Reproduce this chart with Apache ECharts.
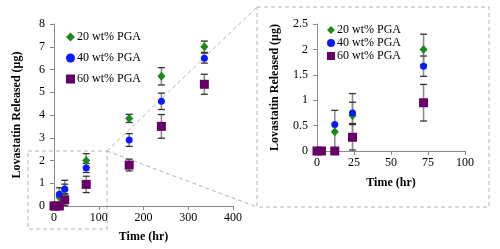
<!DOCTYPE html>
<html>
<head>
<meta charset="utf-8">
<script src="https://cdn.jsdelivr.net/npm/echarts@6/dist/echarts.min.js"></script>
<style>
  html, body { margin: 0; padding: 0; background: #fff; }
  #chart { width: 500px; height: 249px; }
</style>
</head>
<body>
<div id="chart"></div>
<script>
// data (time in hr, lovastatin in ug)
var hours = [0, 3, 12, 24, 72, 168, 240, 336];
var pga20 = [0, 0, 0.38, 0.70, 2.0, 3.85, 5.7, 7.0];
var pga20Err = [0, 0, 0.42, 0.43, 0.30, 0.18, 0.38, 0.25];
var pga40 = [0, 0, 0.52, 0.75, 1.67, 2.9, 4.6, 6.5];
var pga40Err = [0, 0, 0, 0.21, 0.20, 0.28, 0.36, 0.22];
var pga60 = [0, 0, 0, 0.27, 0.95, 1.8, 3.5, 5.35];
var pga60Err = [0, 0, 0, 0.25, 0.36, 0.26, 0.52, 0.44];
var seriesNames = ['20 wt% PGA', '40 wt% PGA', '60 wt% PGA'];
var xTicksMain = [0, 400, 100];   // min, max, interval
var yTicksMain = [0, 8, 1];
var xTicksZoom = [0, 100, 25];
var yTicksZoom = [0, 2.5, 0.5];

var chart = echarts.init(document.getElementById('chart'));

var FONT = 'Liberation Serif';
var colors = ['#1b8a1b', '#0a1aff', '#660066'];
var symbols = ['diamond', 'circle', 'rect'];
var symSizes = [[8, 9], 7, 9];
var values = [pga20, pga40, pga60];
var errs = [pga20Err, pga40Err, pga60Err];

function pts(vals, maxX) {
  var out = [];
  hours.forEach(function (h, i) {
    if (h <= maxX) out.push([h, vals[i]]);
  });
  return out;
}
function errPts(vals, e, maxX) {
  var out = [];
  hours.forEach(function (h, i) {
    if (h <= maxX && e[i] > 0) out.push([h, vals[i] - e[i], vals[i] + e[i]]);
  });
  return out;
}

function errorItem(params, api) {
  var x = api.value(0);
  var top = api.coord([x, api.value(2)]);
  var bot = api.coord([x, api.value(1)]);
  var w = 3.5;
  return {
    type: 'group',
    children: [
      {type: 'line', shape: {x1: top[0], y1: top[1], x2: bot[0], y2: bot[1]},
        style: {stroke: '#8c8c8c', lineWidth: 1.6}},
      {type: 'line', shape: {x1: top[0] - w, y1: top[1], x2: top[0] + w, y2: top[1]},
        style: {stroke: '#333', lineWidth: 1.3}},
      {type: 'line', shape: {x1: bot[0] - w, y1: bot[1], x2: bot[0] + w, y2: bot[1]},
        style: {stroke: '#333', lineWidth: 1.3}}
    ]
  };
}

function axisBase(t, fs) {
  return {
    min: t[0], max: t[1], interval: t[2],
    axisLine: {lineStyle: {color: '#8a8a8a', width: 1}},
    axisTick: {show: true, length: 4, lineStyle: {color: '#8a8a8a'}},
    axisLabel: {color: '#000', fontFamily: FONT, fontSize: fs, margin: 6},
    splitLine: {show: false},
    nameTextStyle: {color: '#000', fontFamily: FONT, fontSize: 12, fontWeight: 'bold'}
  };
}

var xMain = axisBase(xTicksMain, 12);
xMain.gridIndex = 0; xMain.type = 'value';
xMain.name = 'Time (hr)'; xMain.nameLocation = 'middle'; xMain.nameGap = 25;
var yMain = axisBase(yTicksMain, 12);
yMain.gridIndex = 0; yMain.type = 'value';
yMain.name = 'Lovastatin Released (μg)'; yMain.nameLocation = 'middle'; yMain.nameGap = 31;
yMain.axisLabel.margin = 9;
var xZoom = axisBase(xTicksZoom, 12);
xZoom.gridIndex = 1; xZoom.type = 'value';
xZoom.name = 'Time (hr)'; xZoom.nameLocation = 'middle'; xZoom.nameGap = 26;
var yZoom = axisBase(yTicksZoom, 12);
yZoom.gridIndex = 1; yZoom.type = 'value';
yZoom.name = 'Lovastatin Released (μg)'; yZoom.nameLocation = 'middle'; yZoom.nameGap = 36;
yZoom.axisLabel.margin = 9;

var series = [];
[0, 1].forEach(function (g) {
  var maxX = g === 0 ? 1000 : 100;
  values.forEach(function (v, k) {
    series.push({
      type: 'custom', xAxisIndex: g, yAxisIndex: g, z: 2,
      renderItem: errorItem, silent: true,
      data: errPts(v, errs[k], maxX)
    });
  });
  values.forEach(function (v, k) {
    series.push({
      name: seriesNames[k], type: 'scatter', xAxisIndex: g, yAxisIndex: g, z: 3,
      symbol: symbols[k], symbolSize: symSizes[k],
      itemStyle: {color: colors[k], opacity: 1},
      data: pts(v, maxX)
    });
  });
});

var legendCommon = {
  orient: 'vertical', itemWidth: 9, itemHeight: 9,
  textStyle: {color: '#000', fontFamily: FONT, fontSize: 12, padding: [0, 0, 0, -3]},
  selectedMode: false
};

var dash = {stroke: '#b5b5b5', lineWidth: 1, lineDash: [4, 3], fill: null};

chart.setOption({
  animation: false,
  backgroundColor: '#fff',
  grid: [
    {left: 54, right: 267, top: 24, bottom: 43},
    {left: 317, right: 35, top: 24, bottom: 98}
  ],
  xAxis: [xMain, xZoom],
  yAxis: [yMain, yZoom],
  legend: [
    Object.assign({}, legendCommon, {left: 61, top: 26, itemGap: 9, data: seriesNames}),
    Object.assign({}, legendCommon, {left: 322, top: 19, itemGap: 1,
      itemWidth: 8, itemHeight: 8, data: seriesNames})
  ],
  graphic: [
    {type: 'rect', shape: {x: 28, y: 151, width: 79, height: 78}, style: dash, silent: true},
    {type: 'rect', shape: {x: 257, y: 7, width: 232, height: 200}, style: dash, silent: true},
    {type: 'line', shape: {x1: 107, y1: 151, x2: 257, y2: 7}, style: dash, silent: true},
    {type: 'line', shape: {x1: 107, y1: 151, x2: 257, y2: 207}, style: dash, silent: true}
  ],
  series: series
});
</script>
</body>
</html>
